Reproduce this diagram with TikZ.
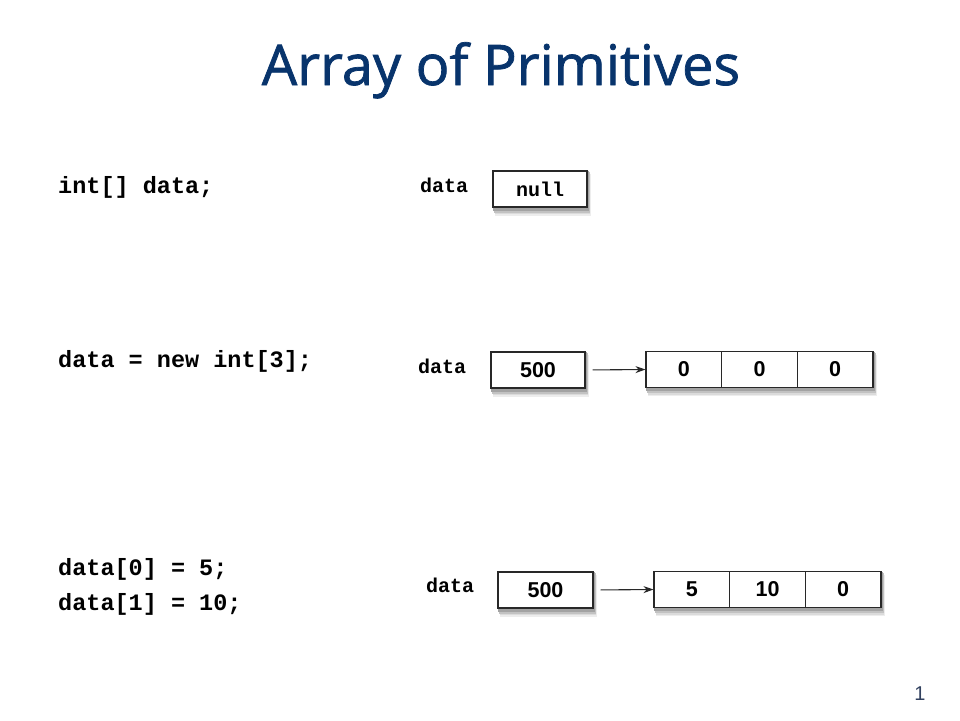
\documentclass[tikz,border=0pt]{standalone}
\usepackage{fontspec}
\setmainfont{Liberation Sans}
\newfontfamily\codefont{Liberation Mono}
\newfontfamily\titlefont[FakeBold=1.3]{Open Sans}
\usetikzlibrary{calc,backgrounds,arrows.meta}
\definecolor{titleblue}{RGB}{8,52,108}
\definecolor{linegray}{RGB}{40,40,40}
\definecolor{pagenum}{RGB}{50,65,95}
\tikzset{
  cell/.style={draw=linegray,line width=1.1pt,fill=white,inner sep=0pt,
    minimum height=36pt,font=\fontsize{21.5}{24}\selectfont\bfseries},
  varbox/.style={cell,minimum width=94pt},
  arrcell/.style={cell,minimum width=75.67pt},
  code/.style={anchor=base west,inner sep=0pt,font=\codefont\fontsize{23.5}{28}\selectfont\bfseries},
  varlabel/.style={anchor=base west,inner sep=0pt,font=\codefont\fontsize{20}{24}\selectfont\bfseries},
  ptr/.style={draw=linegray,line width=1.1pt,-{Stealth[length=10pt,width=7pt]},shorten <=7pt}
}
\begin{document}
\begin{tikzpicture}[x=1pt,y=-1pt]
\useasboundingbox (0,0) rectangle (960,720);
% title
\node[anchor=base,inner sep=0pt,text=titleblue,font=\titlefont\fontsize{56}{60}\selectfont] (title) at (501,85) {Array of Primitives};
% code lines
\node[code] (c1) at (58,193) {int[] data;};
\node[code] (c2) at (58,367) {data = new int[3];};
\node[code] (c3) at (58,575) {data[0] = 5;};
\node[code] (c4) at (58,610) {data[1] = 10;};
% row 1
\node[varlabel] (l1) at (420,192) {data};
\node[varbox,font=\codefont\fontsize{20}{24}\selectfont\bfseries] (v1) at (540,189) {null};
% row 2
\node[varlabel] (l2) at (418,373) {data};
\node[varbox] (v2) at (538,370) {500};
\node[arrcell] (a20) at (683.83,369.5) {0};
\node[arrcell] (a21) at (759.5,369.5) {0};
\node[arrcell] (a22) at (835.17,369.5) {0};
\draw[ptr] (v2.east) -- (a20.west);
% row 3
\node[varlabel] (l3) at (426,592) {data};
\node[varbox,minimum width=95pt] (v3) at (545.5,590) {500};
\node[arrcell] (a30) at (691.83,589.5) {5};
\node[arrcell] (a31) at (767.5,589.5) {10};
\node[arrcell] (a32) at (843.17,589.5) {0};
\draw[ptr] (v3.east) -- (a30.west);
% shadows
\begin{scope}[on background layer]
\foreach \nw/\se in {v1.north west/v1.south east, v2.north west/v2.south east,
    v3.north west/v3.south east, a20.north west/a22.south east, a30.north west/a32.south east}{
  \fill[black!7]  ($(\nw)+(3,4)$) rectangle ($(\se)+(3,8)$);
  \fill[black!14] ($(\nw)+(2.5,3)$) rectangle ($(\se)+(2.5,6.5)$);
  \fill[black!24] ($(\nw)+(2,2)$) rectangle ($(\se)+(2,5)$);
  \fill[black!36] ($(\nw)+(1,1)$) rectangle ($(\se)+(1.5,3)$);
}
\end{scope}
% page number
\node[anchor=base,inner sep=0pt,text=pagenum,font=\fontsize{20}{22}\selectfont] (pg) at (920,700) {1};
\end{tikzpicture}
\end{document}
